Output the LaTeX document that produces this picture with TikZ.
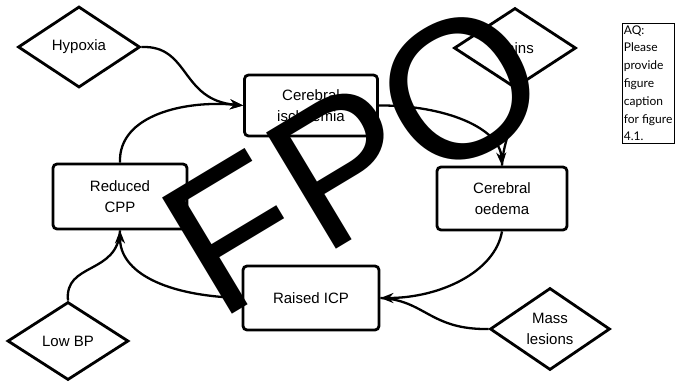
\documentclass[tikz,border=0pt]{standalone}
\usepackage{fontspec}
\setmainfont{Liberation Sans}
\newfontfamily\aqfont{Lato}
\usetikzlibrary{shapes.geometric,arrows.meta}
\begin{document}
\begin{tikzpicture}[x=1pt,y=-1pt,
  boxnode/.style={draw,line width=2.8pt,rounded corners=4pt,minimum width=#1,align=center,font=\fontsize{15}{21}\selectfont,inner sep=0pt},
  boxnode/.default=132pt,
  dnode/.style={draw,diamond,line width=2.8pt,minimum width=120pt,minimum height=80pt,aspect=1.5,inner sep=0pt,align=center,font=\fontsize{15}{21}\selectfont},
  conn/.style={line width=2.3pt},
  arr/.style={conn,-{Stealth[length=13pt,width=10pt]}},
  fpoletter/.style={rotate=31,inner sep=0pt,font=\fontsize{197}{197}\selectfont}]
\useasboundingbox (0,0) rectangle (690,386);
% boxes
\node[boxnode=133pt,minimum height=61pt] (isch) at (311,105.5) {Cerebral\\ischaemia};
\node[boxnode=130pt,minimum height=63pt] (oed) at (502,198.5) {Cerebral\\oedema};
\node[boxnode=134pt,minimum height=65pt] (cpp) at (120,196.5) {Reduced\\CPP};
\node[boxnode=136pt,minimum height=64pt] (icp) at (311,298) {Raised ICP};
% diamonds
\node[dnode,minimum width=122pt,minimum height=81pt] (hyp) at (79,47) {Hypoxia};
\node[dnode,minimum width=122pt,minimum height=80pt] (pain) at (515,48) {Pains};
\node[dnode,minimum width=121pt,minimum height=78pt] (lbp) at (68,341) {Low BP};
\node[dnode,minimum width=120pt,minimum height=82pt] (mass) at (550,329) {Mass\\lesions};
% connectors
\draw[arr] (hyp.east) .. controls (190,45) and (180,100) .. (isch.west);
\draw[arr] (cpp.north) .. controls (118,115) and (185,100) .. (isch.west);
\draw[arr] (isch.east) .. controls (445,105) and (500,128) .. (oed.north);
\draw[conn] (pain.south) .. controls (515,125) and (503,140) .. (oed.north);
\draw[arr] (oed.south) .. controls (495,272) and (440,298) .. (icp.east);
\draw[conn] (mass.west) .. controls (430,330) and (425,300) .. (icp.east);
\draw[arr] (icp.west) .. controls (165,296) and (120,272) .. (cpp.south);
\draw[conn] (lbp.north) .. controls (64,262) and (118,275) .. (cpp.south);
% FPO overlay
\node[fpoletter] (fpoF) at (235,233) {F};
\node[fpoletter] (fpoP) at (344,166) {P};
\node[fpoletter] (fpoO) at (460,89) {O};
% AQ box
\node[draw,line width=0.7pt,anchor=north west,inner xsep=1.5pt,inner ysep=2pt,align=left,font=\aqfont\fontsize{12}{17.8}\selectfont] (aq) at (622,23) {AQ:\\Please\\provide\\figure\\caption\\for figure\\4.1.};
\end{tikzpicture}
\end{document}
